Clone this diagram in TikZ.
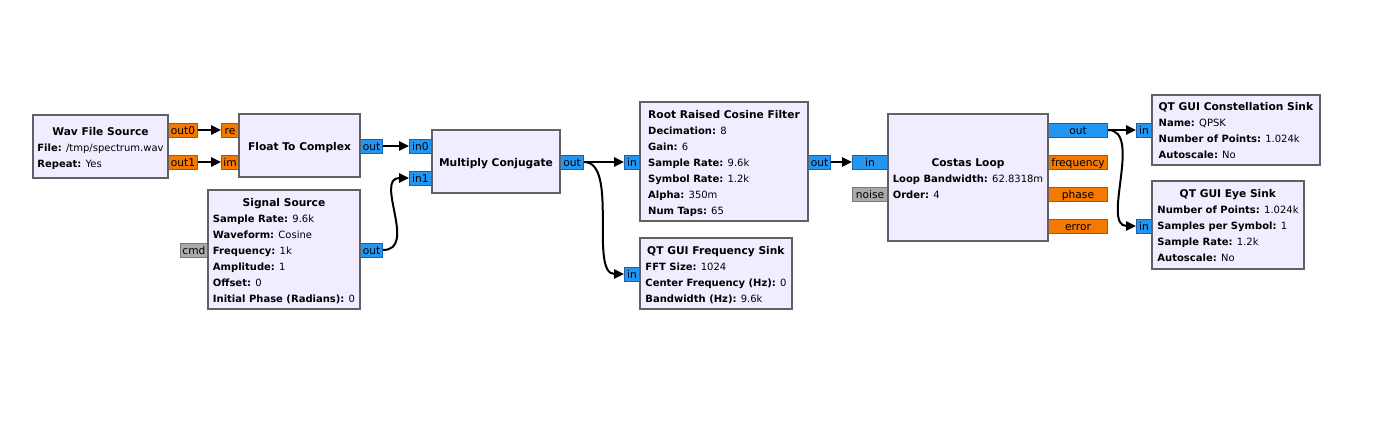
\documentclass[tikz,border=0pt]{standalone}
\usepackage{fontspec}
\setmainfont{DejaVu Sans}
\usetikzlibrary{arrows.meta}
\definecolor{blockfill}{HTML}{F1ECFF}
\definecolor{blockline}{HTML}{616161}
\definecolor{pblue}{HTML}{2196F3}
\definecolor{pblueline}{HTML}{1A5FA8}
\definecolor{porange}{HTML}{F57900}
\definecolor{porangeline}{HTML}{B0501A}
\definecolor{pgray}{HTML}{AAAAAA}
\definecolor{pgrayline}{HTML}{7A7A7A}
\newcommand\blkttl[1]{\multicolumn{1}{@{}c@{}}{\rule{0pt}{10.6pt}\textbf{#1}}}
\newcommand\blkonly[1]{\begin{tabular}{@{}c@{}}\rule{0pt}{10.6pt}\textbf{#1}\end{tabular}}
\newcommand\kv[2]{{\fontsize{7.5}{12}\selectfont\textbf{#1:} #2}}
\begin{document}
\begin{tikzpicture}[x=0.75pt,y=-0.75pt,
 block/.style={draw=blockline, fill=blockfill, line width=1.5pt, inner sep=0pt, font=\fontsize{8}{12}\selectfont},
 bw/.style={minimum width=#1*0.75pt},
 bh/.style={minimum height=#1*0.75pt},
 port/.style={line width=0.75pt, inner sep=0pt, minimum height=14*0.75pt, text height=7.8pt, text depth=1.6pt, font=\fontsize{8}{10}\selectfont, bw=#1},
 bport/.style={port=#1, draw=pblueline, fill=pblue},
 oport/.style={port=#1, draw=porangeline, fill=porange},
 gport/.style={port=#1, draw=pgrayline, fill=pgray},
 wire/.style={line width=1.5pt, -{Triangle[length=7.5pt,width=7pt]}},
]
\useasboundingbox[fill=white] (0,0) rectangle (1396,432);

% ports
\node[oport=29, anchor=west] (wav_out0) at (168,130) {out0};
\node[oport=29, anchor=west] (wav_out1) at (168,162) {out1};
\node[oport=17, anchor=east] (ftc_re) at (239,130) {re};
\node[oport=17, anchor=east] (ftc_im) at (239,162) {im};
\node[bport=22, anchor=west] (ftc_out) at (360,146) {out};
\node[bport=22, anchor=east] (mc_in0) at (432,146) {in0};
\node[bport=22, anchor=east] (mc_in1) at (432,178) {in1};
\node[bport=23, anchor=west] (mc_out) at (560,162) {out};
\node[gport=27, anchor=east] (sig_cmd) at (208,250) {cmd};
\node[bport=22, anchor=west] (sig_out) at (360,250) {out};
\node[bport=15, anchor=east] (rrc_in) at (640,162) {in};
\node[bport=22, anchor=west] (rrc_out) at (808,162) {out};
\node[bport=15, anchor=east] (fs_in) at (640,274) {in};
\node[bport=35, anchor=east] (cl_in) at (888,162) {in};
\node[gport=35, anchor=east] (cl_noise) at (888,194) {noise};
\node[bport=59, anchor=west] (cl_out) at (1048,130) {out};
\node[oport=59, anchor=west] (cl_freq) at (1048,162) {frequency};
\node[oport=59, anchor=west] (cl_phase) at (1048,194) {phase};
\node[oport=59, anchor=west] (cl_error) at (1048,226) {error};
\node[bport=15, anchor=east] (cs_in) at (1152,130) {in};
\node[bport=15, anchor=east] (eye_in) at (1152,226) {in};

% blocks
\node[block,bw=135,bh=63] (wav) at (100.5,146.5) {\begin{tabular}{@{}l@{}}\blkttl{Wav File Source}\\\kv{File}{/tmp/spectrum.wav}\\\kv{Repeat}{Yes}\end{tabular}};
\node[block,bw=121,bh=63] (ftc) at (299.5,145.5) {\blkonly{Float To Complex}};
\node[block,bw=128,bh=63] (mc) at (496,161.5) {\blkonly{Multiply Conjugate}};
\node[block,bw=152,bh=119] (sig) at (284,249.5) {\begin{tabular}{@{}l@{}}\blkttl{Signal Source}\\\kv{Sample Rate}{9.6k}\\\kv{Waveform}{Cosine}\\\kv{Frequency}{1k}\\\kv{Amplitude}{1}\\\kv{Offset}{0}\\\kv{Initial Phase (Radians)}{0}\end{tabular}};
\node[block,bw=168,bh=119] (rrc) at (724,161.5) {\begin{tabular}{@{}l@{}}\blkttl{Root Raised Cosine Filter}\\\kv{Decimation}{8}\\\kv{Gain}{6}\\\kv{Sample Rate}{9.6k}\\\kv{Symbol Rate}{1.2k}\\\kv{Alpha}{350m}\\\kv{Num Taps}{65}\end{tabular}};
\node[block,bw=152,bh=71] (fs) at (716,273.5) {\begin{tabular}{@{}l@{}}\blkttl{QT GUI Frequency Sink}\\\kv{FFT Size}{1024}\\\kv{Center Frequency (Hz)}{0}\\\kv{Bandwidth (Hz)}{9.6k}\end{tabular}};
\node[block,bw=160,bh=127] (cl) at (968,177.5) {\begin{tabular}{@{}l@{}}\blkttl{Costas Loop}\\\kv{Loop Bandwidth}{62.8318m}\\\kv{Order}{4}\end{tabular}};
\node[block,bw=168,bh=70] (cs) at (1236,130) {\begin{tabular}{@{}l@{}}\blkttl{QT GUI Constellation Sink}\\\kv{Name}{QPSK}\\\kv{Number of Points}{1.024k}\\\kv{Autoscale}{No}\end{tabular}};
\node[block,bw=152,bh=88] (eye) at (1228,225) {\begin{tabular}{@{}l@{}}\blkttl{QT GUI Eye Sink}\\\kv{Number of Points}{1.024k}\\\kv{Samples per Symbol}{1}\\\kv{Sample Rate}{1.2k}\\\kv{Autoscale}{No}\end{tabular}};

% wires
\draw[wire] (wav_out0.east) -- (ftc_re.west);
\draw[wire] (wav_out1.east) -- (ftc_im.west);
\draw[wire] (ftc_out.east) -- (mc_in0.west);
\draw[wire] (sig_out.east) .. controls +(35,0) and +(-35,0) .. (mc_in1.west);
\draw[wire] (mc_out.east) -- (rrc_in.west);
\draw[wire] (mc_out.east) .. controls +(35,0) and +(-35,0) .. (fs_in.west);
\draw[wire] (rrc_out.east) -- (cl_in.west);
\draw[wire] (cl_out.east) -- (cs_in.west);
\draw[wire] (cl_out.east) .. controls +(35,0) and +(-35,0) .. (eye_in.west);
\end{tikzpicture}
\end{document}
